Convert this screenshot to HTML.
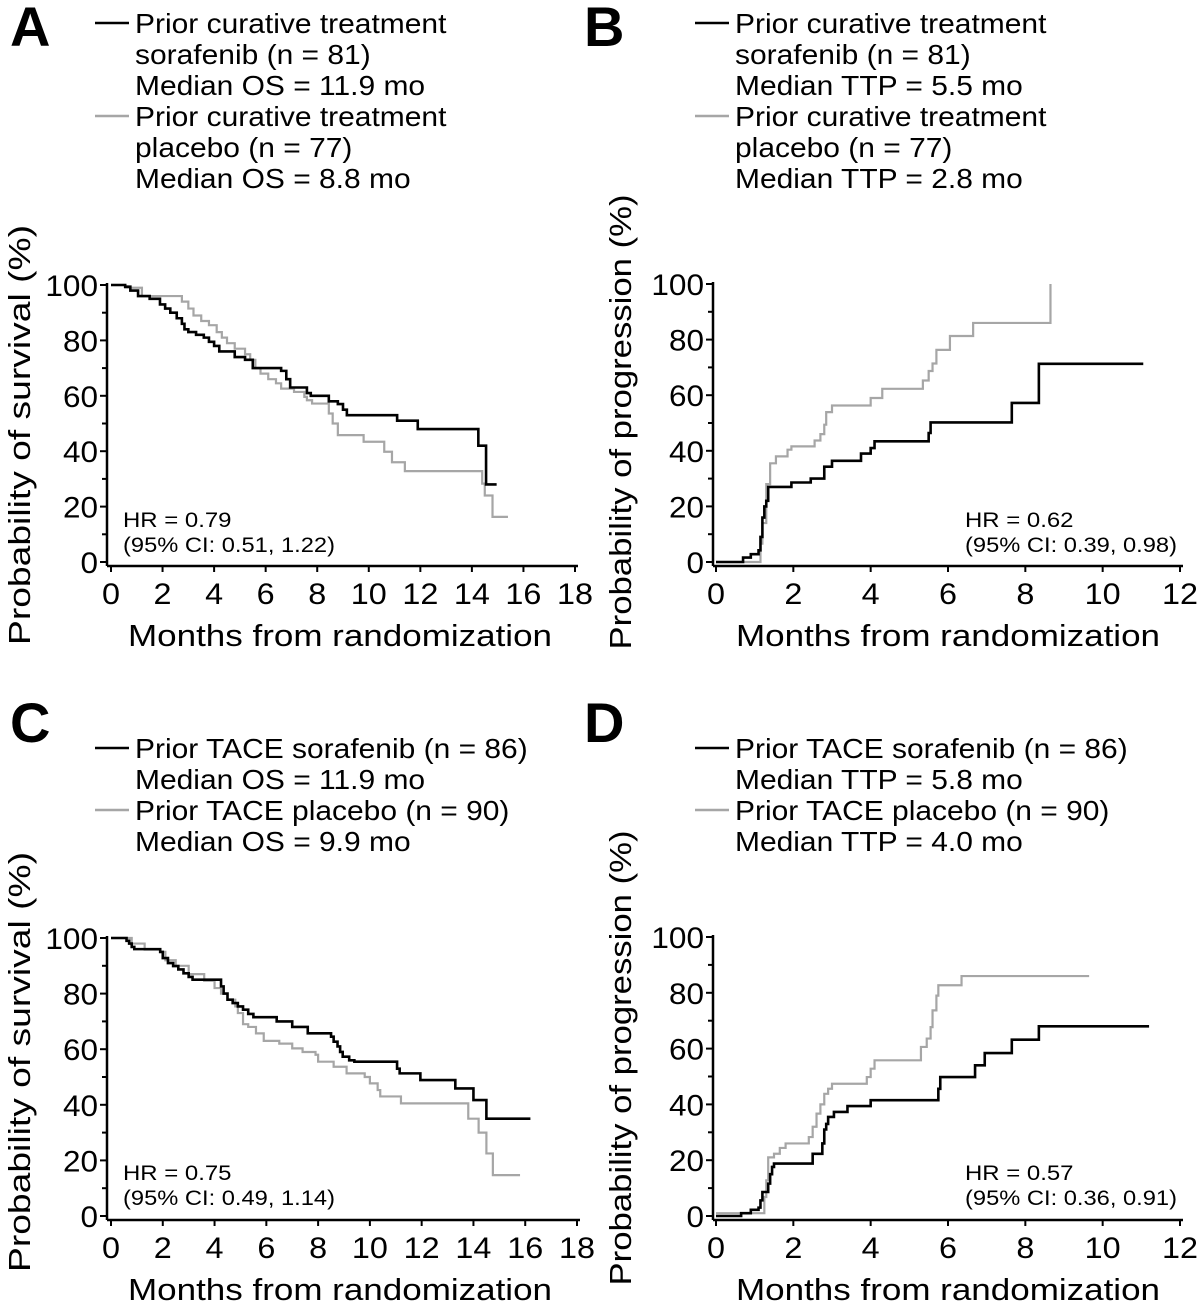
<!DOCTYPE html>
<html><head><meta charset="utf-8"><style>
html,body{margin:0;padding:0;background:#fff;}
svg{display:block;font-family:"Liberation Sans",Arial,sans-serif;}
</style></head><body>
<svg id="fig" width="1200" height="1306" viewBox="0 0 1200 1306" xmlns="http://www.w3.org/2000/svg"></svg>
<script>
// Panel A: OS, prior curative
const aSorTimes=[0,0.55,0.75,1.05,1.5,1.9,2.1,2.3,2.55,2.75,2.85,3.0,3.3,3.6,3.8,4.0,4.2,4.8,5.2,5.5,6.6,6.8,6.95,7.6,7.75,8.45,8.8,9.0,9.15,11.1,11.9,14.25,14.55,14.96];
const aSorVals=[100,99.4,98,96,95,93,91.5,90,88,86,84,83,82,81,79.5,78,76,74,73,70,69,66,63,61,60,58,57,55,53,51,48,42,28,28];
const aPlaTimes=[0,0.55,1.2,2.75,3.0,3.2,3.5,3.8,4.1,4.3,4.5,4.8,5.2,5.4,5.6,5.8,6.1,6.4,6.6,7.1,7.5,7.6,7.8,8.45,8.6,8.8,9.8,10.6,10.9,11.4,14.4,14.5,14.8,15.4];
const aPlaVals=[100,99,96,94,91.5,89,87,85.5,83,81,79,77,75,73,70,68,66,64.5,62.6,61.4,59.6,58.4,57.2,53.6,50,45.8,43.4,39.8,36,32.8,28.3,24,16.3,16.3];
// Panel B: TTP, prior curative
const bSorTimes=[0,0.7,0.9,1.1,1.15,1.2,1.25,1.3,1.35,1.95,2.45,2.8,3.0,3.75,4.0,4.1,5.5,5.55,7.65,8.35,11.05];
const bSorVals=[0,1.6,2.8,4.2,9,16,20,22,27,28.6,30,34.3,36.4,39,41,43.4,46.4,50.2,57.2,71.3,71.3];
const bPlaTimes=[0,1.1,1.15,1.2,1.3,1.4,1.55,1.85,1.95,2.55,2.7,2.8,2.85,3.0,4.0,4.3,5.35,5.5,5.6,5.7,6.05,6.65,8.65,8.65];
const bPlaVals=[0,0,6.6,14,28,35.5,38,40.4,41.6,43.7,46,49.4,53.9,56.3,59,62.3,65.3,68.7,71.4,76.3,81.3,86,100,100];
// Panel C: OS, prior TACE
const cSorTimes=[0,0.5,0.6,0.7,0.8,0.9,1.9,2.0,2.2,2.4,2.6,2.8,3.0,3.15,4.25,4.35,4.5,4.7,4.9,5.1,5.3,5.5,6.4,7.0,7.6,8.5,8.6,8.75,8.85,8.95,9.2,9.4,11.05,11.15,11.95,13.3,14.0,14.5,16.2];
const cSorVals=[100,100,99,98,96.8,96,95,92.8,91,89.9,88.7,87.3,86,85,82.6,80,77.8,76.6,75.4,74.2,72.7,71.5,70,68,65.7,64.5,62.7,61,59,57.3,56,55.5,53,51.3,48.9,45.9,41.7,35,35];
const cPlaTimes=[0,0.6,0.8,1.3,1.9,2.1,2.5,3.0,3.6,4.0,4.25,4.5,4.8,4.9,5.1,5.3,5.6,5.9,6.5,7.0,7.4,7.9,8.0,8.6,9.1,9.8,10.0,10.3,10.4,11.2,13.8,14.2,14.5,14.75,15.8];
const cPlaVals=[100,100,98,95.8,95,92,90,87,84.6,82,80,77.8,75.4,73,69,68,65.7,63,62,60.3,59,58,55.5,53.7,51.3,50,47.7,45.3,43,40.5,35,30,22.5,14.7,14.7];
// Panel D: TTP, prior TACE
const dSorTimes=[0,0.65,0.9,1.1,1.15,1.2,1.35,1.4,1.45,1.5,2.5,2.75,2.8,2.85,2.9,3.05,3.4,4.0,5.75,5.8,6.7,6.95,7.65,8.35,11.2];
const dSorVals=[0,1,2.2,3,5.6,8.6,11.6,15,17.6,18.8,22.3,26,31,33,35.5,37.3,39.4,41.5,45.6,49.8,54,58.4,63.2,68,68];
const dPlaTimes=[0,1.15,1.25,1.3,1.35,1.5,1.65,1.8,2.4,2.5,2.6,2.7,2.8,2.9,3.0,3.9,4.0,4.1,5.3,5.45,5.55,5.6,5.7,5.75,6.35,9.65];
const dPlaVals=[1,1,6.8,12.8,21,22.3,24.4,26,28.3,32,36.7,40,43.8,45.6,47.4,49.8,52.8,55.8,60.6,63.6,67.7,73.7,79,82.7,86,86];
const yTicks=[0,20,40,60,80,100];
const xTicksOS=[0,2,4,6,8,10,12,14,16,18];
const xTicksTTP=[0,2,4,6,8,10,12];

const NS="http://www.w3.org/2000/svg";
const svg=document.getElementById('fig');
function mk(tag,attrs,parent){const e=document.createElementNS(NS,tag);for(const k in attrs)e.setAttribute(k,attrs[k]);(parent||svg).appendChild(e);return e;}
function txt(s,attrs,parent,stretch){const e=mk('text',attrs,parent);e.textContent=s;
  if(stretch){const w=e.getComputedTextLength();e.setAttribute('textLength',(w*stretch).toFixed(1));e.setAttribute('lengthAdjust','spacingAndGlyphs');}
  return e;}
function txtLen(s,attrs,parent,len){const e=mk('text',attrs,parent);e.textContent=s;e.setAttribute('textLength',len);e.setAttribute('lengthAdjust','spacingAndGlyphs');return e;}

function panel(o){
  const g=mk('g',{});
  
  
  const xs=v=>o.x0+(v-0)/o.xmax*(o.x1-o.x0);
  const ys=v=>o.y0-(v/100)*(o.y0-o.y100);
  const ya=mk('line',{x1:o.ax,y1:o.y100-2,x2:o.ax,y2:o.axY,stroke:'#000','stroke-width':2.5},g);
  
  
  const xa=mk('line',{x1:o.ax,y1:o.axY,x2:o.x1+3,y2:o.axY,stroke:'#000','stroke-width':2.5},g);
  
  
  for(let v=0;v<=100;v+=10){
    const major=v%20===0;
    mk('line',{x1:o.ax-(major?7:5),y1:ys(v),x2:o.ax,y2:ys(v),stroke:'#000','stroke-width':2},g);
  }
  yTicks.forEach(v=>{
    const t=txt(String(v),{x:o.ax-9,y:ys(v)+11,'font-size':30,'text-anchor':'end'},g,1.05);
    
    
  });
  o.xt.forEach(v=>{
    mk('line',{x1:xs(v),y1:o.axY,x2:xs(v),y2:o.axY+6,stroke:'#000','stroke-width':2},g);
    const t=txt(String(v),{x:xs(v),y:o.axY+38,'font-size':30,'text-anchor':'middle'},g,1.08);
    
    
  });
  const xt=txtLen('Months from randomization',{x:o.xtX,y:o.axY+80,'font-size':31,'text-anchor':'middle'},g,424);
  
  
  const yt=txtLen(o.ytitle,{x:0,y:0,'font-size':31,'text-anchor':'middle',transform:`translate(${o.ytX},${o.ytY}) rotate(-90)`},g,o.ytL);
  
  
  function curve(times,vals,color,w,name){
    let d=`M${xs(times[0])},${ys(vals[0])}`;
    for(let i=1;i<times.length;i++){d+=`H${xs(times[i])}V${ys(vals[i])}`;}
    const p=mk('path',{d:d,fill:'none',stroke:color,'stroke-width':w},g);
    
    
  }
  curve(o.pt,o.pv,'#a6a6a6',2.2,'placebo-curve');
  curve(o.st,o.sv,'#000',2.6,'sorafenib-curve');
  const h1=txt(o.hr[0],{x:o.hrX,y:o.hrY,'font-size':21},g,1.14);
  
  
  const h2=txtLen(o.hr[1],{x:o.hrX,y:o.hrY+25,'font-size':21},g,212);
  
  
  const L=txt(o.letter,{x:o.lx,y:o.ly,'font-size':56,'font-weight':'bold'},g);
  
  
  o.leg.forEach((row,i)=>{
    const by=o.legY+i*31;
    if(row[1]){
      const ln=mk('line',{x1:o.legX-40,y1:by-10,x2:o.legX-6,y2:by-10,stroke:row[1],'stroke-width':2.5},g);
      
      
    }
    const t=txt(row[0],{x:o.legX,y:by,'font-size':28},g,1.07);
    
    
  });
}

panel({name:'panel-a',x0:111,x1:575,xmax:18,y0:562,y100:285,ax:107,axY:566,xt:xTicksOS,xtX:340,
 ytitle:'Probability of survival (%)',ytX:30,ytY:435,ytL:420,st:aSorTimes,sv:aSorVals,pt:aPlaTimes,pv:aPlaVals,
 hr:['HR = 0.79','(95% CI: 0.51, 1.22)'],hrX:123,hrY:527,letter:'A',lx:10,ly:46,legX:135,legY:33,
 leg:[['Prior curative treatment','#000'],['sorafenib (n = 81)'],['Median OS = 11.9 mo'],['Prior curative treatment','#a6a6a6'],['placebo (n = 77)'],['Median OS = 8.8 mo']]});
panel({name:'panel-b',x0:716,x1:1180,xmax:12,y0:562,y100:284,ax:713,axY:566,xt:xTicksTTP,xtX:948,
 ytitle:'Probability of progression (%)',ytX:631,ytY:422,ytL:455,st:bSorTimes,sv:bSorVals,pt:bPlaTimes,pv:bPlaVals,
 hr:['HR = 0.62','(95% CI: 0.39, 0.98)'],hrX:965,hrY:527,letter:'B',lx:584,ly:46,legX:735,legY:33,
 leg:[['Prior curative treatment','#000'],['sorafenib (n = 81)'],['Median TTP = 5.5 mo'],['Prior curative treatment','#a6a6a6'],['placebo (n = 77)'],['Median TTP = 2.8 mo']]});
panel({name:'panel-c',x0:111,x1:577,xmax:18,y0:1216,y100:938,ax:107,axY:1220,xt:xTicksOS,xtX:340,
 ytitle:'Probability of survival (%)',ytX:30,ytY:1062,ytL:420,st:cSorTimes,sv:cSorVals,pt:cPlaTimes,pv:cPlaVals,
 hr:['HR = 0.75','(95% CI: 0.49, 1.14)'],hrX:123,hrY:1180,letter:'C',lx:10,ly:742,legX:135,legY:758,
 leg:[['Prior TACE sorafenib (n = 86)','#000'],['Median OS = 11.9 mo'],['Prior TACE placebo (n = 90)','#a6a6a6'],['Median OS = 9.9 mo']]});
panel({name:'panel-d',x0:716,x1:1180,xmax:12,y0:1216,y100:937,ax:713,axY:1220,xt:xTicksTTP,xtX:948,
 ytitle:'Probability of progression (%)',ytX:631,ytY:1058,ytL:455,st:dSorTimes,sv:dSorVals,pt:dPlaTimes,pv:dPlaVals,
 hr:['HR = 0.57','(95% CI: 0.36, 0.91)'],hrX:965,hrY:1180,letter:'D',lx:584,ly:742,legX:735,legY:758,
 leg:[['Prior TACE sorafenib (n = 86)','#000'],['Median TTP = 5.8 mo'],['Prior TACE placebo (n = 90)','#a6a6a6'],['Median TTP = 4.0 mo']]});
</script>
</body></html>
